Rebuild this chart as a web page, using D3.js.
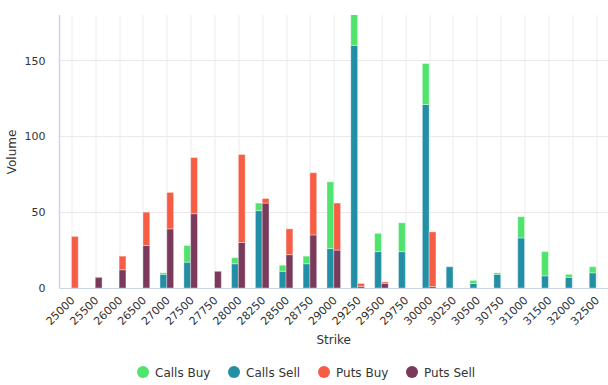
<!DOCTYPE html>
<html>
<head>
<meta charset="utf-8">
<script src="https://cdn.jsdelivr.net/npm/d3@7"></script>
<style>
  body { margin: 0; background: #fff; }
  svg { font-family: "DejaVu Sans", Verdana, sans-serif; }
</style>
</head>
<body>
<svg width="608" height="385"></svg>
<script>
const strikes = ["25000", "25500", "26000", "26500", "27000", "27500", "27750", "28000", "28250", "28500", "28750", "29000",
  "29250", "29500", "29750", "30000", "30250", "30500", "30750", "31000", "31500", "32000", "32500"];

const callsSell = [0, 0, 0, 0, 9, 17, 0, 16, 51, 11, 16, 26, 160, 24, 24, 121, 14, 3, 9, 33, 8, 7, 10];
const callsBuy  = [0, 0, 0, 0, 1, 11, 0, 4, 5, 4, 5, 44, 30, 12, 19, 27, 0, 2, 1, 14, 16, 2, 4];
const putsSell  = [0, 7, 12, 28, 39, 49, 11, 30, 56, 22, 35, 25, 1, 3, 0, 1, 0, 0, 0, 0, 0, 0, 0];
const putsBuy   = [34, 0, 9, 22, 24, 37, 0, 58, 3, 17, 41, 31, 2, 1, 0, 36, 0, 0, 0, 0, 0, 0, 0];

const yTicks = [0, 50, 100, 150];

const colors = {
  callsBuy: "#50e36e",
  callsSell: "#238fa5",
  putsBuy: "#f75c45",
  putsSell: "#7a3a5b"
};

const margin = {top: 15, right: 0, bottom: 97, left: 59.5},
    width = 608 - margin.left - margin.right,
    height = 385 - margin.top - margin.bottom;

const svg = d3.select("svg");

const g = svg.append("g")
    .attr("transform", `translate(${margin.left},${margin.top})`);

const x = d3.scaleBand().domain(strikes).range([0, width]).padding(0);
const y = d3.scaleLinear().domain([0, 180]).range([height, 0]);

const bw = x.bandwidth();
const side = d3.scaleBand().domain(["calls", "puts"]).range([bw / 2 - 6.8, bw / 2 + 6.8]).padding(0);

svg.append("defs").append("clipPath")
    .attr("id", "plotClip")
  .append("rect")
    .attr("width", width)
    .attr("height", height);

// grid
g.append("g")
  .selectAll("line")
  .data(yTicks)
  .join("line")
    .attr("x1", 0).attr("x2", width)
    .attr("y1", d => Math.round(y(d)) + 0.5).attr("y2", d => Math.round(y(d)) + 0.5)
    .attr("stroke", "#e9e9e9");

g.append("g")
  .selectAll("line")
  .data(strikes)
  .join("line")
    .attr("x1", d => Math.round(x(d) + bw / 2) + 0.5).attr("x2", d => Math.round(x(d) + bw / 2) + 0.5)
    .attr("y1", 0).attr("y2", height)
    .attr("stroke", "#ececec");

// stacked bars
const rows = strikes.map((s, i) => ({
  strike: s,
  callsSell: callsSell[i], callsBuy: callsBuy[i],
  putsSell: putsSell[i], putsBuy: putsBuy[i]
}));

const groups = [
  {side: "calls", keys: ["callsSell", "callsBuy"]},
  {side: "puts", keys: ["putsSell", "putsBuy"]}
];

const bars = g.append("g").attr("clip-path", "url(#plotClip)");

groups.forEach(grp => {
  const stacked = d3.stack().keys(grp.keys)(rows);
  stacked.forEach(layer => {
    bars.append("g")
      .selectAll("rect")
      .data(layer.filter(d => d[1] - d[0] > 0))
      .join("rect")
        .attr("x", d => x(d.data.strike) + side(grp.side))
        .attr("width", side.bandwidth())
        .attr("y", d => y(d[1]))
        .attr("height", d => y(d[0]) - y(d[1]))
        .attr("fill", colors[layer.key])
        .attr("stroke", "#fff")
        .attr("stroke-opacity", 0.35)
        .attr("stroke-width", 1);
  });
});

// axes lines
g.append("line")
    .attr("x1", 0).attr("x2", 0).attr("y1", 0).attr("y2", height)
    .attr("stroke", "#ccd6eb").attr("stroke-width", 1.5);
g.append("line")
    .attr("x1", 0).attr("x2", width).attr("y1", height + 0.5).attr("y2", height + 0.5)
    .attr("stroke", "#ccd6eb");

// y tick labels
g.append("g")
  .selectAll("text")
  .data(yTicks)
  .join("text")
    .attr("x", -14)
    .attr("y", d => y(d) + 4)
    .attr("text-anchor", "end")
    .attr("font-size", 11)
    .attr("fill", "#333")
    .text(d => d);

// x tick labels
g.append("g")
  .selectAll("text")
  .data(strikes)
  .join("text")
    .attr("transform", d => `translate(${x(d) + bw / 2 + 4},${height + 13}) rotate(-45)`)
    .attr("text-anchor", "end")
    .attr("font-size", 11)
    .attr("fill", "#333")
    .text(d => d);

// axis titles
svg.append("text")
    .attr("x", margin.left + width / 2 + 0)
    .attr("y", 344)
    .attr("text-anchor", "middle")
    .attr("font-size", 12)
    .attr("fill", "#333")
    .text("Strike");

svg.append("text")
    .attr("transform", `translate(16,152) rotate(-90)`)
    .attr("text-anchor", "middle")
    .attr("font-size", 12)
    .attr("fill", "#333")
    .text("Volume");

// legend
const legendItems = [
  {label: "Calls Buy", key: "callsBuy", x: 143},
  {label: "Calls Sell", key: "callsSell", x: 234},
  {label: "Puts Buy", key: "putsBuy", x: 324},
  {label: "Puts Sell", key: "putsSell", x: 412}
];

const legend = svg.append("g").selectAll("g")
  .data(legendItems)
  .join("g")
    .attr("transform", d => `translate(${d.x},372)`);

legend.append("circle")
    .attr("r", 6)
    .attr("fill", d => colors[d.key]);

legend.append("text")
    .attr("x", 12)
    .attr("y", 4.5)
    .attr("font-size", 12)
    .attr("fill", "#333")
    .text(d => d.label);
</script>
</body>
</html>
